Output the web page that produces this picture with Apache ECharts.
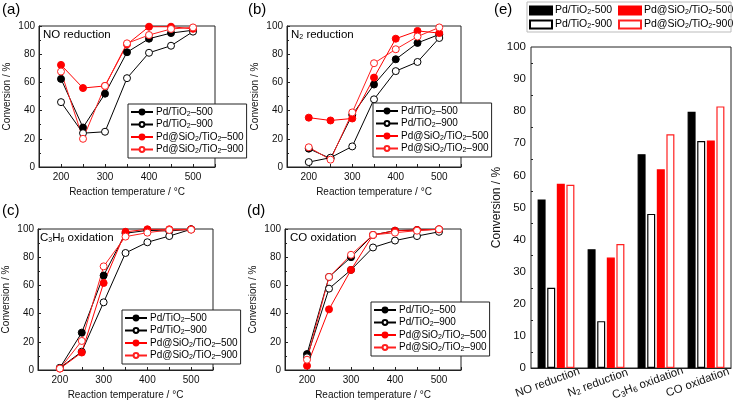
<!DOCTYPE html>
<html><head><meta charset="utf-8">
<script src="https://cdn.jsdelivr.net/npm/echarts@6/dist/echarts.min.js"></script>
<style>html,body{margin:0;padding:0;background:#fff}#c{width:734px;height:403px}</style>
</head><body><div id="c"></div>
<script>
const temperatures = [200, 250, 300, 350, 400, 450, 500];
const lineNames = ['Pd/TiO2–500', 'Pd/TiO2–900', 'Pd@SiO2/TiO2–500', 'Pd@SiO2/TiO2–900'];
// (a) NO reduction
const noPdTi500 = [62.5, 28, 52, 81.4, 91, 95, 97];
const noPdTi900 = [46, 24, 25, 63, 81, 86, 96];
const noPdSi500 = [72.4, 56, 57.5, 87, 99.5, 99.5, 98];
const noPdSi900 = [67.7, 20, 57.5, 87.7, 93.6, 97.9, 99];
// (b) N2 reduction
const n2PdTi500 = [13, 6, 37, 58.5, 76.4, 88, 94];
const n2PdTi900 = [3.5, 6.6, 14.6, 48, 68, 74.5, 91.5];
const n2PdSi500 = [35, 33, 34.4, 63.4, 91, 96.5, 95];
const n2PdSi900 = [14, 5.2, 38.7, 73.6, 83.5, 92.5, 99];
// (c) C3H6 oxidation
const c3PdTi500 = [1.5, 26.5, 67, 97, 99, 98.6, 99.8];
const c3PdTi900 = [1.5, 13, 48, 83, 90.6, 95, 99.8];
const c3PdSi500 = [1, 12.4, 61.7, 98, 99.8, 99.8, 99.8];
const c3PdSi900 = [1, 20.6, 73.5, 94.6, 97.4, 99.3, 99.5];
// (d) CO oxidation
const coPdTi500 = [11.3, 66, 80, 95.8, 98.8, 99.3, 99.8];
const coPdTi900 = [9, 57.7, 71, 86.9, 91.8, 95, 98];
const coPdSi500 = [3, 43, 71, 95.8, 98.8, 99.3, 99.8];
const coPdSi900 = [7.3, 66, 81.7, 95.8, 97.4, 98.8, 99.8];
// (e) bar chart
const barCategories = ['NO reduction', 'N2 reduction', 'C3H6 oxidation', 'CO oxidation'];
const barNames = ['Pd/TiO2-500', 'Pd/TiO2-900', 'Pd@SiO2/TiO2-500', 'Pd@SiO2/TiO2-900'];
const barPdTi500 = [52.5, 37, 66.6, 79.8];
const barPdTi900 = [25, 14.6, 48, 70.7];
const barPdSi500 = [57.4, 34.4, 61.9, 70.9];
const barPdSi900 = [57.1, 38.6, 72.8, 81.5];
const yTicks = [0, 20, 40, 60, 80, 100];
const xTickLabels = [200, 300, 400, 500];

const FONT = '"Liberation Sans", Arial, sans-serif';
const sub = { fontSize: 7, fontFamily: FONT, verticalAlign: 'bottom', padding: [4, 0, 0, 0], color: '#000' };
const subBig = { fontSize: 8, fontFamily: FONT, verticalAlign: 'bottom', padding: [5, 0, 0, 0], color: '#000' };
function chem(s) { return s.replace(/O2/g, 'O{s|2}').replace('N2', 'N{s|2}').replace('C3H6', 'C{s|3}H{s|6}'); }

const grids = [
  { left: 39, top: 26, width: 176, height: 141 },
  { left: 287, top: 26, width: 174, height: 141 },
  { left: 36, top: 229, width: 177, height: 141 },
  { left: 285, top: 229, width: 176, height: 141 },
  { left: 531, top: 47, width: 200, height: 321 }
].map(g => Object.assign(g, { show: true, borderColor: '#222', borderWidth: 1 }));

const xAxes = [], yAxes = [];
for (let i = 0; i < 4; i++) {
  xAxes.push({
    type: 'value', gridIndex: i, min: 150, max: 550, interval: 50,
    name: 'Reaction temperature / °C', nameLocation: 'middle', nameGap: 20,
    nameTextStyle: { fontSize: 10, fontFamily: FONT, color: '#111' },
    axisLine: { lineStyle: { color: '#222' } },
    axisTick: { inside: true, length: 3, lineStyle: { color: '#222' } },
    axisLabel: { fontSize: 10, fontFamily: FONT, color: '#111', margin: 5,
      formatter: v => xTickLabels.indexOf(v) >= 0 ? String(v) : '' },
    splitLine: { show: false }
  });
  yAxes.push({
    type: 'value', gridIndex: i, min: 0, max: 100, interval: 20,
    name: 'Conversion / %', nameLocation: 'middle', nameGap: 27,
    nameTextStyle: { fontSize: 10, fontFamily: FONT, color: '#111' },
    axisLine: { lineStyle: { color: '#222' } },
    axisTick: { inside: true, length: 3, lineStyle: { color: '#222' } },
    minorTick: { show: true, splitNumber: 2, length: 2, lineStyle: { color: '#222' } },
    axisLabel: { fontSize: 10, fontFamily: FONT, color: '#111', margin: 4,
      formatter: v => yTicks.indexOf(v) >= 0 ? String(v) : '' },
    splitLine: { show: false }
  });
}
xAxes.push({
  type: 'category', gridIndex: 4, data: barCategories,
  axisLine: { lineStyle: { color: '#222' } },
  axisTick: { show: false },
  axisLabel: { fontSize: 11.5, fontFamily: FONT, color: '#111', rotate: 20, interval: 0,
    align: 'center', verticalAlign: 'top', margin: 5, padding: [0, 22, 0, 0],
    formatter: v => chem(v), rich: { s: subBig } }
});
yAxes.push({
  type: 'value', gridIndex: 4, min: 0, max: 100, interval: 10,
  name: 'Conversion / %', nameLocation: 'middle', nameGap: 27,
  nameTextStyle: { fontSize: 12, fontFamily: FONT, color: '#111' },
  axisLine: { lineStyle: { color: '#222' } },
  axisTick: { inside: true, length: 3, lineStyle: { color: '#222' } },
  minorTick: { show: true, splitNumber: 2, length: 2, lineStyle: { color: '#222' } },
  axisLabel: { fontSize: 11.5, fontFamily: FONT, color: '#111', margin: 5 },
  splitLine: { show: false }
});

const styles = [
  { color: '#000', fill: '#000' },
  { color: '#000', fill: '#fff' },
  { color: '#ff0000', fill: '#ff0000' },
  { color: '#ff2020', fill: '#fff' }
];
const panels = [
  [noPdTi500, noPdTi900, noPdSi500, noPdSi900],
  [n2PdTi500, n2PdTi900, n2PdSi500, n2PdSi900],
  [c3PdTi500, c3PdTi900, c3PdSi500, c3PdSi900],
  [coPdTi500, coPdTi900, coPdSi500, coPdSi900]
];
const series = [];
panels.forEach((arrs, gi) => {
  arrs.forEach((arr, k) => {
    series.push({
      type: 'line', name: lineNames[k], xAxisIndex: gi, yAxisIndex: gi,
      data: temperatures.map((t, i) => [t, arr[i]]),
      symbol: 'circle', symbolSize: 7, showSymbol: true,
      lineStyle: { color: styles[k].color, width: 1 },
      itemStyle: { color: styles[k].fill, borderColor: styles[k].color, borderWidth: 1 },
      animation: false
    });
  });
});
const barArrays = [barPdTi500, barPdTi900, barPdSi500, barPdSi900];
barArrays.forEach((arr, k) => {
  series.push({
    type: 'bar', name: barNames[k], xAxisIndex: 4, yAxisIndex: 4,
    data: arr, barWidth: 8, barGap: '20%',
    itemStyle: { color: styles[k].fill, borderColor: styles[k].color, borderWidth: 1.2 },
    animation: false
  });
});

const lineLegendPos = [
  { left: 128, top: 104 }, { left: 373, top: 103 }, { left: 122, top: 310 }, { left: 371, top: 302 }
];
const legends = lineLegendPos.map(p => ({
  left: p.left, top: p.top, orient: 'vertical', data: lineNames,
  itemWidth: 22, itemHeight: 6, itemGap: 2, padding: [3, 3, 3, 2],
  borderColor: '#222', borderWidth: 1, backgroundColor: '#fff',
  selectedMode: false,
  textStyle: { fontSize: 10, fontFamily: FONT, color: '#000', padding: [0, 0, 0, -2], rich: { s: sub } },
  formatter: n => chem(n)
}));
const barLegendPos = [
  { left: 527, top: 3 }, { left: 527, top: 17 }, { left: 616, top: 3 }, { left: 616, top: 17 }
];
barNames.forEach((n, k) => {
  legends.push({
    left: barLegendPos[k].left, top: barLegendPos[k].top, orient: 'horizontal', data: [n],
    icon: 'rect', itemWidth: 22, itemHeight: 8, padding: [2, 2, 2, 2], selectedMode: false,
    textStyle: { fontSize: 10.5, fontFamily: FONT, color: '#000', padding: [0, 0, 0, -2], rich: { s: sub } },
    formatter: x => chem(x)
  });
});

const tstyle = (fs) => ({ fontSize: fs, fontWeight: 'normal', fontFamily: FONT, color: '#000', rich: { s: sub } });
const titles = [
  { text: '(a)', left: 2, top: 2, textStyle: tstyle(15) },
  { text: '(b)', left: 248, top: 2, textStyle: tstyle(15) },
  { text: '(c)', left: 2, top: 203, textStyle: tstyle(15) },
  { text: '(d)', left: 247, top: 203, textStyle: tstyle(15) },
  { text: '(e)', left: 494, top: 2, textStyle: tstyle(15) },
  { text: 'NO reduction', left: 43, top: 29, textStyle: tstyle(11.5) },
  { text: 'N{s|2} reduction', left: 291, top: 29, textStyle: tstyle(11.5) },
  { text: 'C{s|3}H{s|6} oxidation', left: 40, top: 232, textStyle: tstyle(11.5) },
  { text: 'CO oxidation', left: 290, top: 232, textStyle: tstyle(11.5) }
].map(t => Object.assign(t, { padding: 0 }));

const chart = echarts.init(document.getElementById('c'));
chart.setOption({
  animation: false,
  backgroundColor: '#fff',
  title: titles,
  grid: grids,
  xAxis: xAxes,
  yAxis: yAxes,
  legend: legends,
  series: series,
  graphic: [{
    type: 'rect', shape: { x: 527, y: 2, width: 204, height: 30 },
    style: { fill: 'none', stroke: '#bbb', lineWidth: 1 }, silent: true, z: 100
  }]
});
</script>
</body></html>
